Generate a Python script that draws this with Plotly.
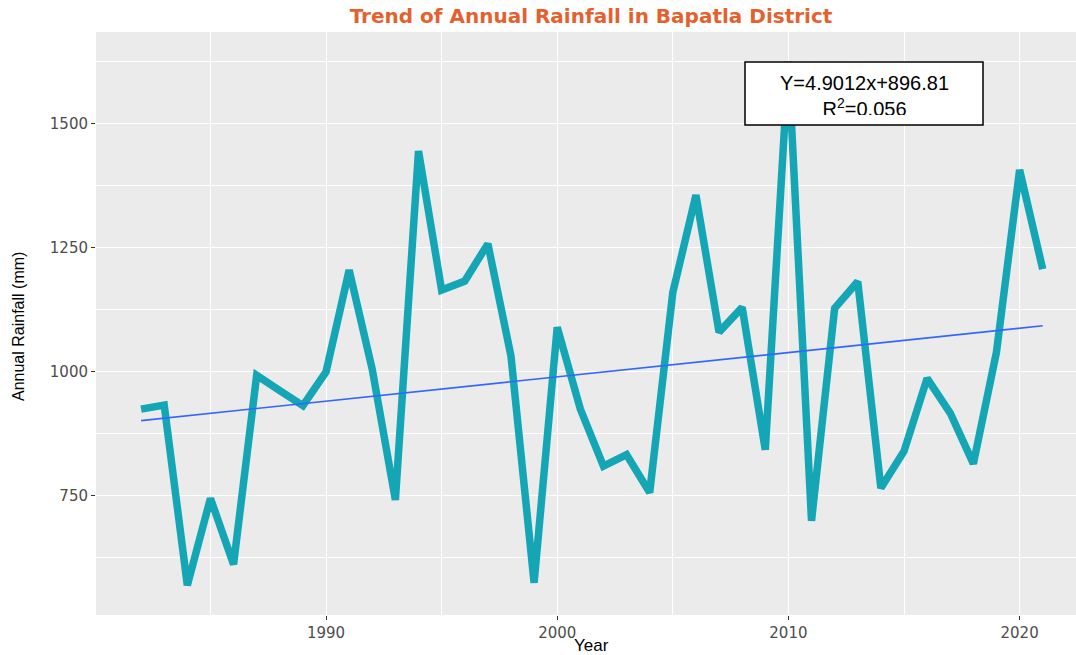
import numpy as np
import plotly.graph_objects as go

# ---- data ----
years = list(range(1982, 2022))
rainfall = [925, 933, 570, 745, 612, 993, 962, 932, 1000, 1205,
            1005, 742, 1445, 1165, 1183, 1258, 1032, 575, 1090, 925,
            810, 833, 757, 1160, 1356, 1080, 1130, 843, 1625, 700,
            1128, 1182, 766, 840, 987, 917, 815, 1040, 1407, 1207]

# regression shown on the chart (x = 1 for the first year)
trend_slope = 4.9012
trend_intercept = 896.81
trend_r2 = 0.056

x_idx = np.arange(1, len(years) + 1)
trend = trend_intercept + trend_slope * x_idx

title_text = "Trend of Annual Rainfall in Bapatla District"
x_title = "Year"
y_title = "Annual Rainfall (mm)"

# layout helpers (pixel -> paper)
L, R, T, B = 96, 0, 32, 40
W, H = 1076, 655
PW, PH = W - L - R, H - T - B


def px(x):
    return (x - L) / PW


def py(y):
    return (H - B - y) / PH


fig = go.Figure()
fig.add_trace(go.Scatter(x=years, y=rainfall, mode="lines",
                         line=dict(color="#14A6B4", width=7.5),
                         showlegend=False, hoverinfo="skip"))
fig.add_trace(go.Scatter(x=years, y=trend, mode="lines",
                         line=dict(color="#3366FF", width=1.6),
                         showlegend=False, hoverinfo="skip"))

fig.update_layout(
    width=W, height=H,
    margin=dict(l=L, r=R, t=T, b=B),
    paper_bgcolor="white",
    plot_bgcolor="#EBEBEB",
    title=dict(text="<b>" + title_text + "</b>", x=px(591), xref="paper",
               xanchor="center", y=1 - 16 / H, yref="container", yanchor="middle",
               font=dict(family="DejaVu Sans", size=20, color="#E4612E")),
    xaxis=dict(range=[1980.05, 2022.44], tick0=1990, dtick=10,
               showgrid=True, gridcolor="white", gridwidth=1.3,
               minor=dict(dtick=5, tick0=1985, showgrid=True, gridcolor="white", gridwidth=0.6),
               ticks="outside", ticklen=4, tickwidth=1, tickcolor="#333333",
               tickfont=dict(family="DejaVu Sans", size=15, color="#4D4D4D"),
               zeroline=False, showline=False),
    yaxis=dict(range=[510, 1685], tick0=0, dtick=250,
               showgrid=True, gridcolor="white", gridwidth=1.3,
               minor=dict(dtick=125, tick0=0, showgrid=True, gridcolor="white", gridwidth=0.6),
               ticks="outside", ticklen=4, tickwidth=1, tickcolor="#333333",
               tickfont=dict(family="DejaVu Sans", size=15, color="#4D4D4D"),
               zeroline=False, showline=False),
)

# axis titles
fig.add_annotation(text=x_title, xref="paper", yref="paper",
                   x=px(591), y=py(645), xanchor="center", yanchor="middle",
                   showarrow=False,
                   font=dict(family="Liberation Sans", size=17, color="black"))
fig.add_annotation(text=y_title, xref="paper", yref="paper",
                   x=px(18), y=py(327), xanchor="center", yanchor="middle",
                   textangle=-90, showarrow=False,
                   font=dict(family="Liberation Sans Narrow, Liberation Sans, sans-serif",
                             size=16, color="black"))

# equation box
fig.add_shape(type="rect", xref="paper", yref="paper",
              x0=px(745), x1=px(983), y0=py(125), y1=py(62),
              fillcolor="white", line=dict(color="black", width=1.5), layer="above")
fig.add_annotation(text="Y=%.4fx+%.2f<br>R<sup>2</sup>=%.3f" % (trend_slope, trend_intercept, trend_r2),
                   xref="paper", yref="paper",
                   x=px(864), y=py(71.5),
                   xanchor="center", yanchor="top",
                   showarrow=False, borderpad=0, borderwidth=0, align="center",
                   font=dict(family="Liberation Sans", size=20, color="black"))
# the reference box cuts off the bottom of its second line
fig.add_annotation(text=" ", xref="paper", yref="paper",
                   x=px(864), y=py(114.5), xanchor="center", yanchor="top",
                   width=230, height=9, borderpad=0, borderwidth=0,
                   bgcolor="white", showarrow=False,
                   font=dict(family="Liberation Sans", size=6, color="white"))

fig.write_html("out.html", config={"displayModeBar": False},
               post_script="document.body.style.margin='0';document.body.style.overflow='hidden';")
